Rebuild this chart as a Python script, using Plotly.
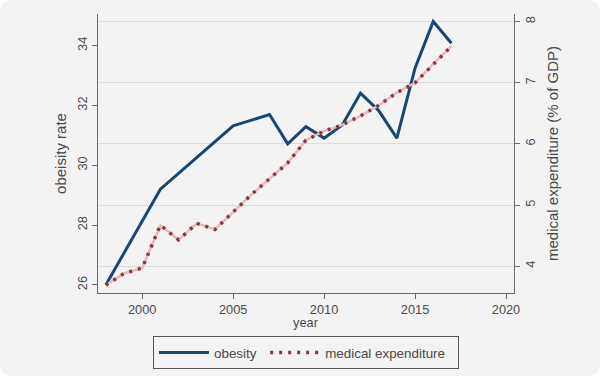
import plotly.graph_objects as go

# ---- data ----
obesity_years = [1998, 2001, 2005, 2007, 2008, 2009, 2010, 2011, 2012, 2013, 2014, 2015, 2016, 2017]
obesity_rate = [26.0, 29.2, 31.32, 31.7, 30.72, 31.29, 30.91, 31.35, 32.41, 31.83, 30.91, 33.25, 34.81, 34.08]

med_years = list(range(1998, 2018))
med_expenditure = [3.69, 3.88, 3.97, 4.67, 4.43, 4.70, 4.60, 4.88, 5.17, 5.43, 5.69, 6.06,
                   6.21, 6.31, 6.46, 6.63, 6.84, 7.00, 7.31, 7.60]

left_ticks = [26, 28, 30, 32, 34]
right_ticks = [4, 5, 6, 7, 8]
x_ticks = [2000, 2005, 2010, 2015, 2020]

# ---- styling ----
W, H = 600, 376
L, R, T, B = 98, 86, 14, 83
pw, ph = W - L - R, H - T - B
BG = "#f3f3f3"
NAVY = "#1a476f"
MAROON = "#90353b"
PINK = "#dfbcbe"
TXT = "#4a4a4a"
AX = "#6a6a6a"
FONT = "Liberation Sans"
FS = 12.8
NB = "\u00a0"

fig = go.Figure()
fig.add_trace(go.Scatter(x=obesity_years, y=obesity_rate, mode="lines", name="obesity" + NB,
                         line=dict(color=NAVY, width=3), yaxis="y"))
fig.add_trace(go.Scatter(x=med_years, y=med_expenditure, mode="lines", showlegend=False,
                         line=dict(color=PINK, width=2.5), yaxis="y2", hoverinfo="skip"))
fig.add_trace(go.Scatter(x=med_years, y=med_expenditure, mode="lines",
                         name="medical expenditure" + NB * 2,
                         line=dict(color=MAROON, width=3.5, dash="3px,6px"), yaxis="y2"))

# rounded background
def px2paper(px, py):
    return (px - L) / pw, (H - B - py) / ph

r = 12
x0, y0 = px2paper(0, 0)
x1, y1 = px2paper(W, H)
rx, ry = r / pw, r / ph
path = (f"M {x0+rx},{y0} L {x1-rx},{y0} Q {x1},{y0} {x1},{y0-ry} "
        f"L {x1},{y1+ry} Q {x1},{y1} {x1-rx},{y1} "
        f"L {x0+rx},{y1} Q {x0},{y1} {x0},{y1+ry} "
        f"L {x0},{y0-ry} Q {x0},{y0} {x0+rx},{y0} Z")

fig.update_layout(
    width=W, height=H,
    margin=dict(l=L, r=R, t=T, b=B, autoexpand=False),
    paper_bgcolor="white",
    plot_bgcolor="rgba(0,0,0,0)",
    font=dict(family=FONT, size=FS, color=TXT),
    shapes=[dict(type="path", path=path, xref="paper", yref="paper",
                 fillcolor=BG, line=dict(width=0), layer="below")],
    annotations=[dict(text="year", xref="paper", yref="paper", x=0.5, y=px2paper(0, 322)[1],
                      xanchor="center", yanchor="middle", showarrow=False,
                      font=dict(family=FONT, size=FS, color=TXT))],
    xaxis=dict(range=[1997.57, 2020.44], tickvals=x_ticks, showgrid=False, automargin=False,
               showline=True, linecolor=AX, linewidth=1, ticks="outside", ticklen=5,
               tickcolor=AX, zeroline=False),
    yaxis=dict(range=[25.73, 35.06], tickvals=left_ticks, showgrid=False, automargin=False,
               showline=True, linecolor=AX, linewidth=1, ticks="outside", ticklen=5,
               tickcolor=AX, tickangle=-90, zeroline=False,
               title=dict(text="obeisity rate", standoff=4)),
    yaxis2=dict(range=[3.56, 8.126], tickvals=right_ticks, overlaying="y", side="right",
                showgrid=True, gridcolor="#dcdcdc", gridwidth=1, automargin=False,
                showline=True, linecolor=AX, linewidth=1, ticks="outside", ticklen=5,
                tickcolor=AX, tickangle=-90, zeroline=False,
                title=dict(text="medical expenditure (% of GDP)", standoff=10)),
    legend=dict(orientation="h", x=0.5, xanchor="center", y=-0.155, yanchor="top",
                bgcolor=BG, bordercolor="#555555", borderwidth=1, itemwidth=50,
                font=dict(family=FONT, size=13.4, color=TXT)),
    showlegend=True,
)

fig.write_html("out.html", config={"displayModeBar": False},
               post_script="document.body.style.margin='0';document.body.style.overflow='hidden';")
